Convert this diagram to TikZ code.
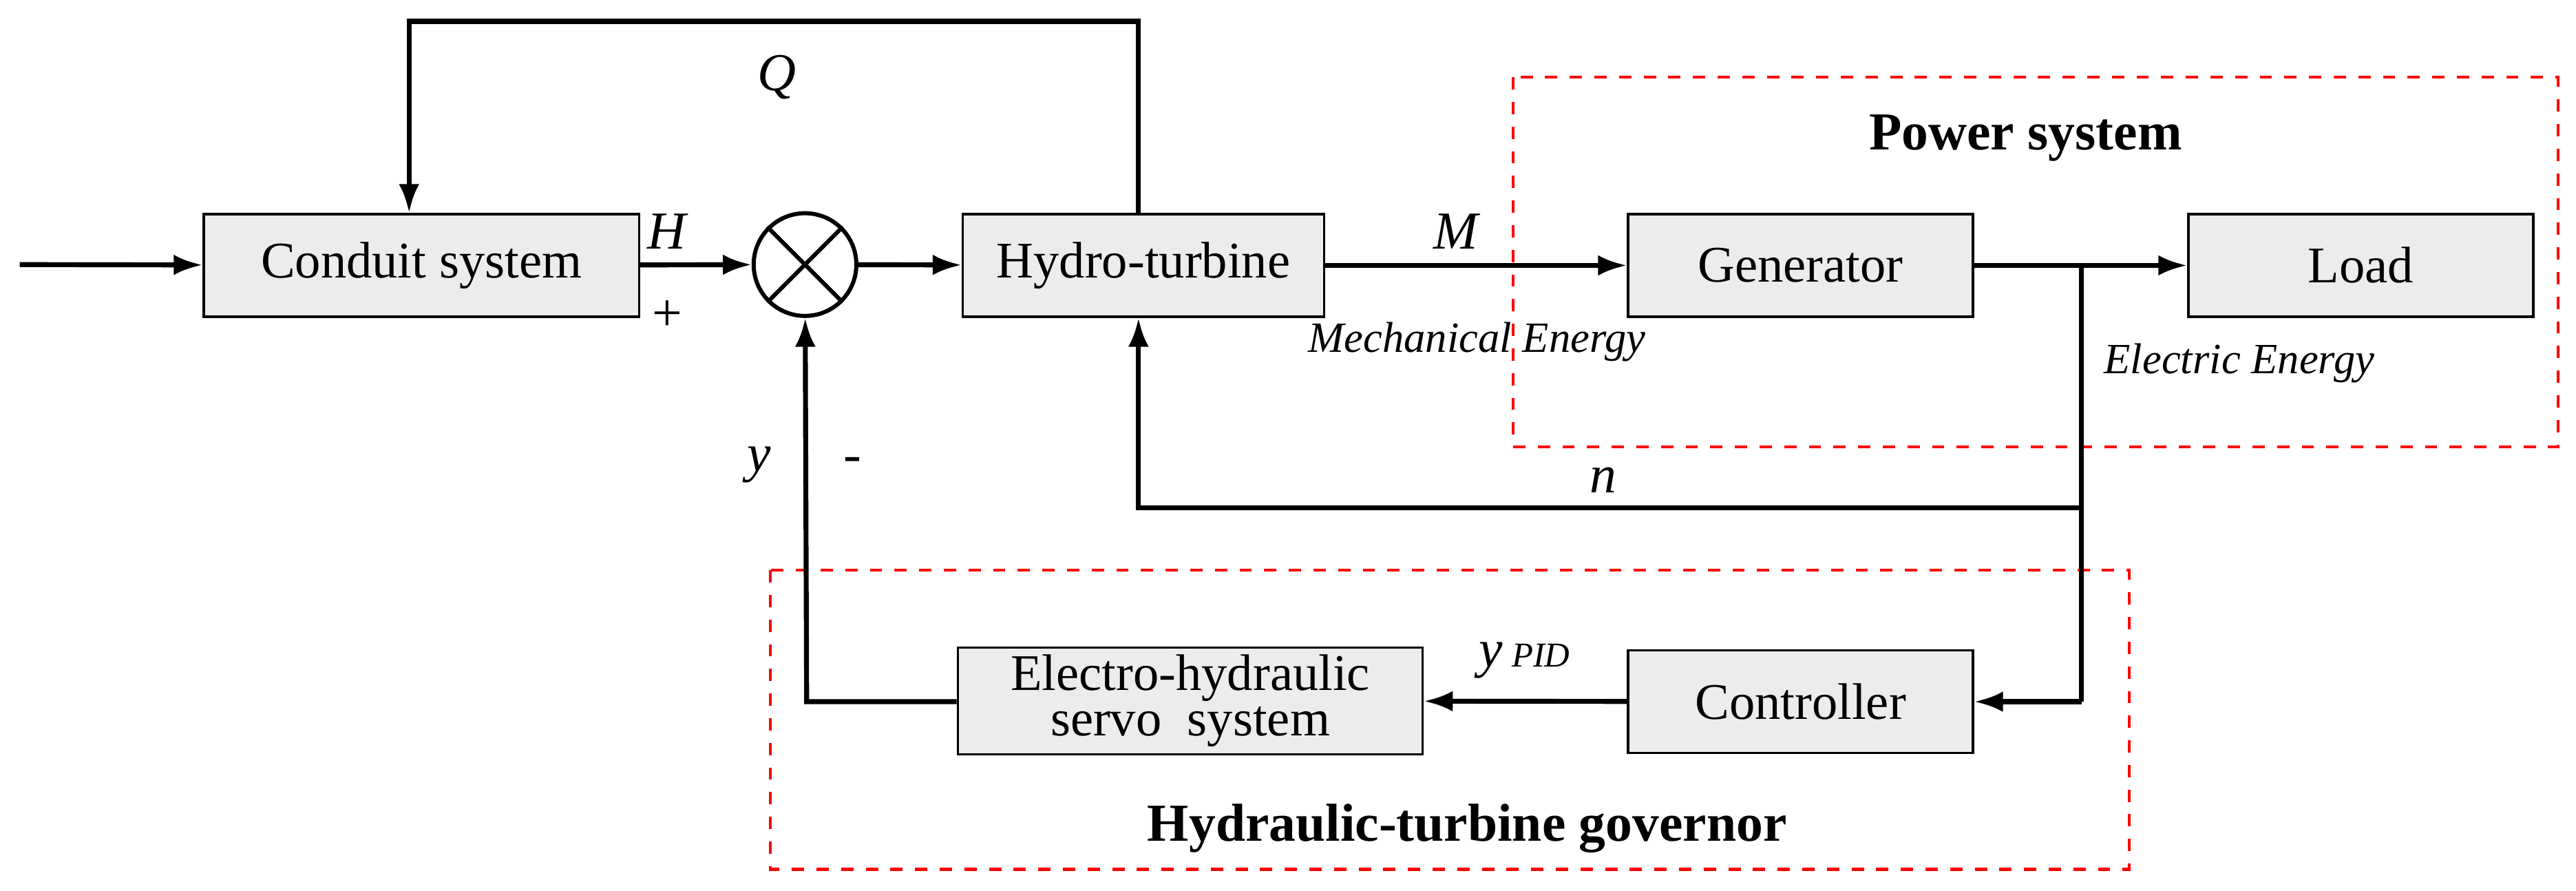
\documentclass[tikz,border=0pt]{standalone}
\usepackage{fontspec}
\setmainfont{Liberation Serif}
\usetikzlibrary{arrows.meta}
\begin{document}
\begin{tikzpicture}[x=0.4pt,y=-0.4pt,
 blk/.style={draw=black,line width=0.6pt,fill=gray!15,minimum width=#1*0.4pt,minimum height=25pt,inner sep=0pt,font=\fontsize{12.5}{13}\selectfont,align=center},
 ln/.style={line width=1.2pt},
 ar/.style={line width=1.2pt,-{Latex[length=7pt,width=5pt]}},
 rdash/.style={draw=red,dashed,line width=0.7pt},
 lab/.style={font=\fontsize{13}{14}\selectfont\itshape},
 sm/.style={font=\fontsize{10.5}{12}\selectfont\itshape}]
\useasboundingbox (0,0) rectangle (1568,542);
\draw[rdash] (921,47) rectangle (1557,272);
\draw[rdash] (469,347) rectangle (1296,529);
\node[font=\fontsize{13}{14}\selectfont\bfseries] (tp) at (1233,84) {Power system};
\node[font=\fontsize{13}{14}\selectfont\bfseries] (tg) at (893,504) {Hydraulic-turbine governor};
\node[blk=265] (cs) at (256.5,161.5) {Conduit system};
\node[draw,line width=1pt,circle,minimum size=25pt,inner sep=0pt] (s) at (490,161) {};
\draw[line width=1pt] (s.north west)--(s.south east) (s.north east)--(s.south west);
\node[blk=220] (ht) at (696,161.5) {Hydro-turbine};
\node[blk=210] (gen) at (1096,161.5) {Generator};
\node[blk=210] (load) at (1437,161.5) {Load};
\node[blk=210] (ctl) at (1096,427) {Controller};
\node[blk=283,minimum height=26pt,font=\fontsize{12.5}{11}\selectfont] (eh) at (724.5,426.5) {Electro-hydraulic\\servo\ \ system};
\coordinate (in) at (12,161);
\coordinate (q1) at (693,13);
\coordinate (q2) at (249,13);
\coordinate (b) at (1267,161);
\coordinate (bn) at (1267,309);
\coordinate (n1) at (693,309);
\coordinate (bc) at (1267,427);
\coordinate (y1) at (491,427);
\draw[ar] (in)--(cs);
\draw[ar] (cs)--(s);
\draw[ar] (s)--(ht);
\draw[ar] (ht.north-|q1)--(q1)--(q2)--(cs.north-|q2);
\draw[ar] (ht)--(gen);
\draw[ar] (gen)--(load);
\draw[ln] (b)--(bc);
\draw[ar] (bn)--(n1)--(ht.south-|n1);
\draw[ar] (bc)--(ctl);
\draw[ar] (ctl)--(eh);
\draw[ar] (eh.west|-y1)--(y1)--(s);
\node[lab] at (473,47) {Q};
\node[lab] at (406,141) {H};
\node[font=\fontsize{13}{14}\selectfont] at (406,192) {+};
\node[lab] at (886,141) {M};
\node[sm] at (899,208) {Mechanical Energy};
\node[sm] at (1363,221) {Electric Energy};
\node[lab] at (976,292) {n};
\node[lab] at (462,283) {y};
\node[font=\fontsize{13}{14}\selectfont] at (519,283) {-};
\node[lab] at (928,402) {y\,{\fontsize{8.5}{9}\selectfont PID}};
\end{tikzpicture}
\end{document}
